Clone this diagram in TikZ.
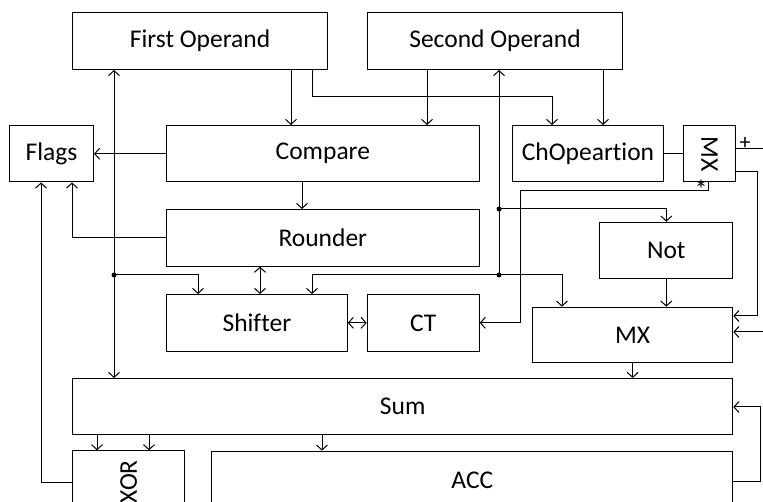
\documentclass[tikz,border=0pt]{standalone}
\usepackage{fontspec}
\setmainfont{Carlito}[Ligatures=NoCommon]
\usetikzlibrary{arrows.meta}
\begin{document}
\begin{tikzpicture}[x=1pt,y=-1pt,
  box/.style={draw, line width=1pt, inner sep=0pt, anchor=north west, font=\fontsize{25.5}{30}\selectfont},
  arr/.style={line width=1pt, -{Straight Barb[length=5pt,width=11pt]}},
  barr/.style={line width=1pt, {Straight Barb[length=5pt,width=11pt]}-{Straight Barb[length=5pt,width=11pt]}},
  ln/.style={line width=1pt},
  dot/.style={circle, fill, inner sep=0pt, minimum size=5pt},
  small/.style={font=\fontsize{22}{22}\selectfont, inner sep=0pt}]
\useasboundingbox (0,0) rectangle (763,502);
% boxes
\node[box, minimum width=255pt, minimum height=57pt] (fo) at (72,12) {First Operand};
\node[box, minimum width=255pt, minimum height=57pt] (so) at (367,12) {Second Operand};
\node[box, minimum width=84pt, minimum height=56.5pt] (flags) at (9,125) {Flags};
\node[box, minimum width=312.7pt, minimum height=56.5pt] (cmp) at (166,125) {Compare};
\node[box, minimum width=150.4pt, minimum height=56.5pt] (chop) at (512.3,125) {ChOpeartion};
\node[box, minimum width=52.6pt, minimum height=56.5pt, label={[rotate=-90, font=\fontsize{25.5}{30}\selectfont]center:MX}] (smx) at (682.7,125) {};
\node[box, minimum width=312.7pt, minimum height=56.7pt] (rnd) at (166,209) {Rounder};
\node[box, minimum width=133pt, minimum height=56.6pt] (not) at (599.3,221.7) {Not};
\node[box, minimum width=180.7pt, minimum height=56.7pt] (shf) at (166,294) {Shifter};
\node[box, minimum width=112pt, minimum height=56.7pt] (ct) at (366.7,294) {CT};
\node[box, minimum width=200.3pt, minimum height=55.6pt] (mx) at (532,306.7) {MX};
\node[box, minimum width=660.3pt, minimum height=56.3pt] (sum) at (72,378) {Sum};
\node[box, minimum width=112.3pt, minimum height=62pt, label={[rotate=90, font=\fontsize{25.5}{30}\selectfont]center:XOR}] (xor) at (72,450.3) {};
\node[box, minimum width=521pt, minimum height=58pt] (acc) at (211.3,450.7) {ACC};
% connectors
\draw[arr] (291,0 |- fo.south) -- (291,0 |- cmp.north);
\draw[arr] (312,0 |- fo.south) -- (312,97) -| (552,0 |- chop.north);
\draw[arr] (427,0 |- so.south) -- (427,0 |- cmp.north);
\draw[arr] (603,0 |- so.south) -- (603,0 |- chop.north);
\draw[arr] (cmp.west) -- (flags.east);
\draw[arr] (302,0 |- cmp.south) -- (302,0 |- rnd.north);
\draw[arr] (rnd.west) -| (72,0 |- flags.south);
\draw[arr] (xor.west |- 0,482) -| (41,0 |- flags.south);
\draw[barr] (114,0 |- fo.south) -- (114,0 |- sum.north);
\draw[arr] (114,275) -| (198,0 |- shf.north);
\draw[barr] (260,0 |- rnd.south) -- (260,0 |- shf.north);
\draw[arr] (499,275) -- (499,0 |- so.south);
\draw[arr] (499,209) -| (not.north);
\draw[arr] (499,275) -| (312,0 |- shf.north);
\draw[arr] (499,275) -| (562,0 |- mx.north);
\draw[barr] (shf.east) -- (ct.west);
\draw[arr] (708,0 |- smx.south) -- (708,191) -| (520,0 |- ct.east) -- (ct.east);
\draw[ln] (chop.east) -- (smx.west);
\draw[ln] (smx.east |- 0,149) -- (770,149);
\draw[arr] (smx.east |- 0,172) -| (757,316) -- (mx.east |- 0,316);
\draw[arr] (770,332) -- (mx.east |- 0,332);
\draw[arr] (not.south) -- (not.south |- mx.north);
\draw[arr] (mx.south) -- (mx.south |- sum.north);
\draw[arr] (97,0 |- sum.south) -- (97,0 |- xor.north);
\draw[arr] (149,0 |- sum.south) -- (149,0 |- xor.north);
\draw[arr] (322,0 |- sum.south) -- (322,0 |- acc.north);
\draw[arr] (acc.east |- 0,481) -| (760,407) -- (sum.east |- 0,407);
% junction dots
\node[dot] (d1) at (114,275) {};
\node[dot] (d2) at (499,209) {};
\node[dot] (d3) at (499,275) {};
% small labels
\node[small] (plus) at (745,143) {+};
\node[small, font=\fontsize{26}{26}\selectfont, anchor=base] (star) at (701,199) {*};
\end{tikzpicture}
\end{document}
